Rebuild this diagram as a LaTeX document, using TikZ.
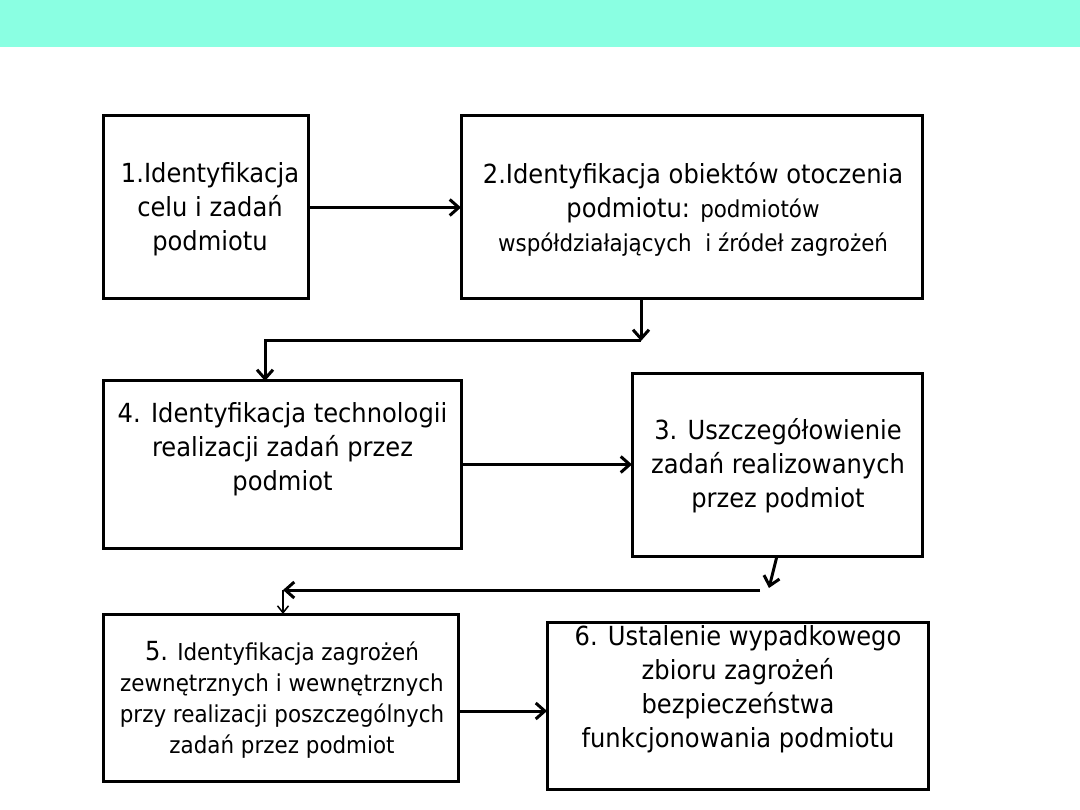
\documentclass[tikz,border=0pt]{standalone}
\usepackage{fontspec}
\setmainfont[FakeStretch=0.92]{DejaVu Sans}
\usetikzlibrary{arrows.meta}
\newcommand\bigf{\fontsize{26.3}{34}\selectfont}
\newcommand\smf{\fontsize{23.3}{34}\selectfont}
\newcommand\smff{\fontsize{23.3}{31}\selectfont}
\definecolor{band}{HTML}{8AFFE2}
\tikzset{
  box/.style={draw=black, line width=3pt, inner sep=0pt, outer sep=0pt, fill=none},
  txt/.style={align=center, inner sep=0pt, font=\bigf},
  arr/.style={line width=3pt, -{Straight Barb[length=9pt,width=16pt]}},
  line/.style={line width=3pt},
  thinarr/.style={line width=1.5pt, -{Straight Barb[length=7pt,width=11pt]}}
}
\begin{document}
\begin{tikzpicture}[x=1pt,y=-1pt]
\useasboundingbox (0,0) rectangle (1080,810);
\fill[white] (0,0) rectangle (1080,810);
\fill[band] (0,0) rectangle (1080,47);

% boxes
\node[box, minimum width=205pt, minimum height=183pt] (b1) at (205.5,207.5) {};
\node[box, minimum width=461pt, minimum height=183pt] (b2) at (691.5,207.5) {};
\node[box, minimum width=358pt, minimum height=167pt] (b4) at (282,464.5) {};
\node[box, minimum width=290pt, minimum height=182pt] (b3) at (777,465) {};
\node[box, minimum width=355pt, minimum height=167pt] (b5) at (280.5,697.5) {};
\node[box, minimum width=381pt, minimum height=167pt] (b6) at (737.5,705.5) {};

% texts
\node[txt] (t1) at (210,209) {1.Identyfikacja\\celu i zadań\\podmiotu};
\node[txt] (t2) at (693,209) {2.Identyfikacja obiektów otoczenia\\podmiotu: {\smf podmiotów}\\{\smf współdziałających\ \ i źródeł zagrożeń}};
\node[txt] (t4) at (282.5,449) {4. Identyfikacja technologii\\realizacji zadań przez\\podmiot};
\node[txt] (t3) at (778,466) {3. Uszczegółowienie\\zadań realizowanych\\przez podmiot};
\node[txt, font=\smff] (t5) at (282,700) {{\bigf 5.} Identyfikacja zagrożeń\\zewnętrznych i wewnętrznych\\przy realizacji poszczególnych\\zadań przez podmiot};
\node[txt] (t6) at (738,689) {6. Ustalenie wypadkowego\\zbioru zagrożeń\\bezpieczeństwa\\funkcjonowania podmiotu};

% helper coordinates
\coordinate (c1) at (641,341);
\coordinate (c2) at (265,341);
\coordinate (c3) at (769,588);
\coordinate (c4) at (760,590);
\coordinate (c5) at (283,590);
\coordinate (y56) at (0,711);

% connectors
\draw[arr] (b1.east) -- (b2.west);
\draw[arr] (b2.south -| c1) -- (c1);
\draw[arr] (c1) -- (c2) -- (c2 |- b4.north);
\draw[arr] (b4.east) -- (b4.east -| b3.west);
\draw[arr] (b3.south) -- (c3);
\draw[arr] (c4) -- (c5);
\draw[thinarr] (c5) -- (c5 |- b5.north);
\draw[arr] (b5.east |- y56) -- (b6.west |- y56);
\end{tikzpicture}
\end{document}
